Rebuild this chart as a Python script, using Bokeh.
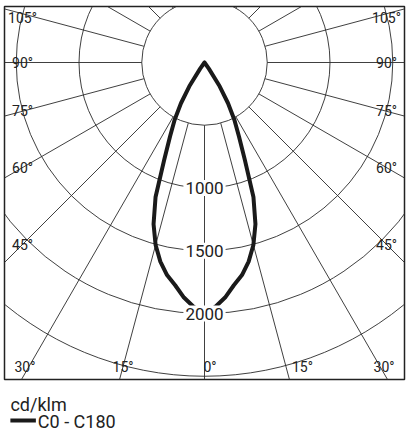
import math
from bokeh.plotting import figure
from bokeh.layouts import column
from bokeh.models import Range1d, Label, ColumnDataSource
from bokeh.embed import file_html
from bokeh.resources import INLINE

# ---------------- data ----------------
gamma_deg = [0, 2.5, 5, 7.5, 10, 12.5, 15, 17.5, 20, 22.5, 25, 27.5, 30, 32.5, 35, 37.5]
intensity = [1985, 1950, 1880, 1790, 1720, 1625, 1505, 1350, 1140, 840, 650, 515, 375, 225, 60, 0]
series_name = "C0 - C180"
unit_label = "cd/klm"
ring_values = [500, 1000, 1500, 2000, 2500, 3000]
ring_label_values = [1000, 1500, 2000]
radial_angles = list(range(-180, 181, 15))
angle_label_values = [0, 15, 30, 45, 60, 75, 90, 105]

# ---------------- layout (pixels) ----------------
S = 0.1255            # px per cd/klm
FW, FH = 400, 373     # frame size
CL, CT = 200, 56      # centre from frame left / top
FONT = "Roboto"
INK = "#222222"
CURVE_COLOR = "#1a1a1a"

x0, x1 = -CL / S, (FW - CL) / S
y0, y1 = -(FH - CT) / S, CT / S

p = figure(frame_width=FW, frame_height=FH, x_range=Range1d(x0, x1), y_range=Range1d(y0, y1),
           x_axis_type=None, y_axis_type=None, toolbar_location=None, output_backend="svg",
           min_border_left=4, min_border_right=4, min_border_top=6, min_border_bottom=2,
           background_fill_color="white", border_fill_color="white")
p.grid.visible = False
p.outline_line_color = "#222222"
p.outline_line_width = 1.5

# rings
p.circle(x=[0] * len(ring_values), y=[0] * len(ring_values), radius=ring_values,
         fill_color=None, line_color="#2a2a2a", line_width=0.9)

# radial lines from the 500 ring outwards
r_in, r_out = ring_values[0], 6000
xs0 = [r_in * math.sin(math.radians(a)) for a in radial_angles]
ys0 = [-r_in * math.cos(math.radians(a)) for a in radial_angles]
xs1 = [r_out * math.sin(math.radians(a)) for a in radial_angles]
ys1 = [-r_out * math.cos(math.radians(a)) for a in radial_angles]
p.segment(x0=xs0, y0=ys0, x1=xs1, y1=ys1, line_color="#2a2a2a", line_width=0.9)

# curve (C0 on one side, C180 mirrored)
cx, cy = [], []
for g, v in zip(gamma_deg[::-1], intensity[::-1]):
    cx.append(-v * math.sin(math.radians(g)))
    cy.append(-v * math.cos(math.radians(g)))
for g, v in zip(gamma_deg[1:], intensity[1:]):
    cx.append(v * math.sin(math.radians(g)))
    cy.append(-v * math.cos(math.radians(g)))
curve = p.line(cx, cy, line_color=CURVE_COLOR, line_width=4, line_join="round", line_cap="round")

# ring labels
for v in ring_label_values:
    p.add_layout(Label(x=0, y=-v, text=str(v), text_align="center", text_baseline="middle",
                       text_font=FONT, text_font_size="17px", text_color=INK,
                       background_fill_color="white", padding=2))

# angle labels
lx, ly, lt, la = [], [], [], []
bottom_y = FH - CT - 13          # px below centre
side_dx = 182                    # px from centre
top_limit = CT - 11.5            # px above centre
for a in angle_label_values:
    sides = [1] if a == 0 else [-1, 1]
    for sd in sides:
        if a < 45:
            xpx = math.tan(math.radians(a)) * bottom_y * sd
            ypx = -bottom_y
            if a == 0:
                xpx -= 1
                align = "left"
            elif a == 15 and sd > 0:
                xpx += 6
                align = "left"
            else:
                if a == 30:
                    xpx += 4 * sd
                align = "center"
        else:
            xpx = side_dx * sd
            ypx = -side_dx / math.tan(math.radians(a)) if a != 90 else 0.0
            ypx = min(ypx, top_limit)
            align = "center"
        lx.append(xpx / S)
        ly.append(ypx / S)
        lt.append(f"{a}°")
        la.append(align)
src = ColumnDataSource(dict(x=lx, y=ly, text=lt, align=la))
p.text(x="x", y="y", text="text", source=src, text_align="align", text_baseline="middle",
       text_font={"value": FONT}, text_font_size={"value": "14px"}, text_color=INK)

# ---------------- legend strip (its own small figure, pixel coordinates, y down) ----------------
LW, LH = 408, 51
leg = figure(width=LW, height=LH, x_range=Range1d(0, LW), y_range=Range1d(LH, 0),
             x_axis_type=None, y_axis_type=None, toolbar_location=None, output_backend="svg",
             min_border=0, min_border_left=0, min_border_right=0, min_border_top=0,
             min_border_bottom=0, background_fill_color="white", border_fill_color="white")
leg.grid.visible = False
leg.outline_line_color = None
leg.text(x=[6], y=[22.6], text=[unit_label], text_baseline="middle", text_align="left",
         text_font={"value": FONT}, text_font_size={"value": "18px"}, text_color=INK)
leg.segment(x0=[6], y0=[39], x1=[32], y1=[39], line_color=CURVE_COLOR, line_width=4)
leg.text(x=[34], y=[40.3], text=[series_name], text_baseline="middle", text_align="left",
         text_font={"value": FONT}, text_font_size={"value": "18px"}, text_color=INK)

layout = column(p, leg, spacing=0)
open("out.html", "w").write(file_html(layout, INLINE))
